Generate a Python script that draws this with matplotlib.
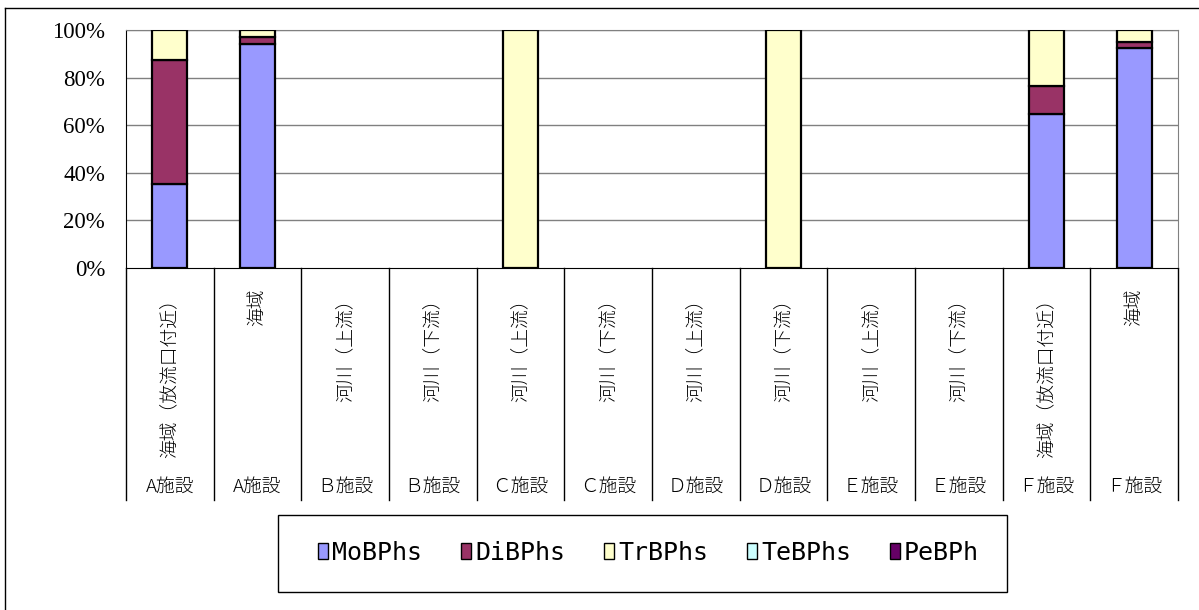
import matplotlib
matplotlib.use("Agg")
import matplotlib.pyplot as plt
from matplotlib.patches import Patch, Rectangle
from matplotlib.lines import Line2D
import matplotlib.transforms as mtransforms
import numpy as np

sites = ["海域（放流口付近）", "海域", "河川（上流）", "河川（下流）", "河川（上流）", "河川（下流）",
         "河川（上流）", "河川（下流）", "河川（上流）", "河川（下流）", "海域（放流口付近）", "海域"]
facilities = ["A施設", "A施設", "Ｂ施設", "Ｂ施設", "Ｃ施設", "Ｃ施設",
              "Ｄ施設", "Ｄ施設", "Ｅ施設", "Ｅ施設", "Ｆ施設", "Ｆ施設"]

series_names = ["MoBPhs", "DiBPhs", "TrBPhs", "TeBPhs", "PeBPh"]
MoBPhs = [35.1, 94.1, 0, 0, 0, 0, 0, 0, 0, 0, 64.9, 92.5]
DiBPhs = [52.1, 2.8, 0, 0, 0, 0, 0, 0, 0, 0, 11.5, 2.4]
TrBPhs = [12.8, 3.1, 0, 0, 100, 0, 0, 100, 0, 0, 23.6, 5.1]
TeBPhs = [0, 0, 0, 0, 0, 0, 0, 0, 0, 0, 0, 0]
PeBPh = [0, 0, 0, 0, 0, 0, 0, 0, 0, 0, 0, 0]
colors = ["#9999FF", "#993366", "#FFFFCC", "#CCFFFF", "#660066"]
yticks = [0, 20, 40, 60, 80, 100]
ytick_labels = ["0%", "20%", "40%", "60%", "80%", "100%"]

W, H = 1199, 610
fig = plt.figure(figsize=(W / 100, H / 100), dpi=100)
ax = fig.add_axes([126 / W, 1 - 268 / H, (1178 - 126) / W, (268 - 30) / H])

x = np.arange(len(sites))
bottom = np.zeros(len(sites))
for vals, col in zip([MoBPhs, DiBPhs, TrBPhs, TeBPhs, PeBPh], colors):
    v = np.array(vals, dtype=float)
    mask = v > 0
    ax.bar(x[mask], v[mask], bottom=bottom[mask], width=0.4, color=col,
           edgecolor="black", linewidth=1.6, zorder=3)
    bottom += v

ax.set_xlim(-0.5, len(sites) - 0.5)
ax.set_ylim(0, 100)
ax.set_yticks(yticks)
ax.set_yticklabels(ytick_labels, fontfamily="Liberation Serif", fontsize=16.5)
ax.tick_params(axis="y", direction="out", length=0, pad=15)
ax.set_xticks([])
for yv in yticks[1:]:
    ax.axhline(yv, color="#808080", linewidth=1, zorder=1)
for side in ["top", "right"]:
    ax.spines[side].set_color("#808080")
ax.spines["left"].set_color("black")
ax.spines["bottom"].set_color("black")
ax.spines["bottom"].set_zorder(4)

# Category separators and labels
trans = mtransforms.blended_transform_factory(ax.transData, ax.transAxes)
ax_h = 268 - 30
y_sep_bottom = (268 - 500) / ax_h
for b in np.arange(-0.5, len(sites), 1.0):
    ax.add_line(Line2D([b, b], [0, y_sep_bottom], transform=trans, color="black",
                       linewidth=1, clip_on=False))
cjk = ["Noto Sans CJK JP", "DejaVu Sans"]
for i, (s, f) in enumerate(zip(sites, facilities)):
    ax.text(i, (268 - 289) / ax_h, s, transform=trans, rotation=90, ha="center", va="top",
            fontsize=13.5, family=cjk, fontweight="light")
    ax.text(i, (268 - 487) / ax_h, f, transform=trans, ha="center", va="center",
            fontsize=13.5, family=cjk, fontweight="light")

# Legend box
fig.add_artist(Rectangle((278 / W, 1 - 592 / H), (1007 - 278) / W, (592 - 515) / H,
                         transform=fig.transFigure, facecolor="white", edgecolor="black",
                         linewidth=1))
handles = [Patch(facecolor=c, edgecolor="black", linewidth=1) for c in colors]
fig.legend(handles, series_names, loc="center", bbox_to_anchor=((278 + 1007) / 2 / W + 0.005, 1 - 553 / H),
           ncol=5, frameon=False, handlelength=0.42, handleheight=0.6, handletextpad=0.15,
           columnspacing=1.55, prop={"family": ["DejaVu Sans Mono"], "size": 18})

# Outer chart border (top and left visible)
fig.add_artist(Line2D([5 / W, 1.0], [1 - 8 / H, 1 - 8 / H], transform=fig.transFigure,
                      color="black", linewidth=1))
fig.add_artist(Line2D([5 / W, 5 / W], [1 - 8 / H, 0.0], transform=fig.transFigure,
                      color="black", linewidth=1))

fig.savefig("out.png", dpi=100)
